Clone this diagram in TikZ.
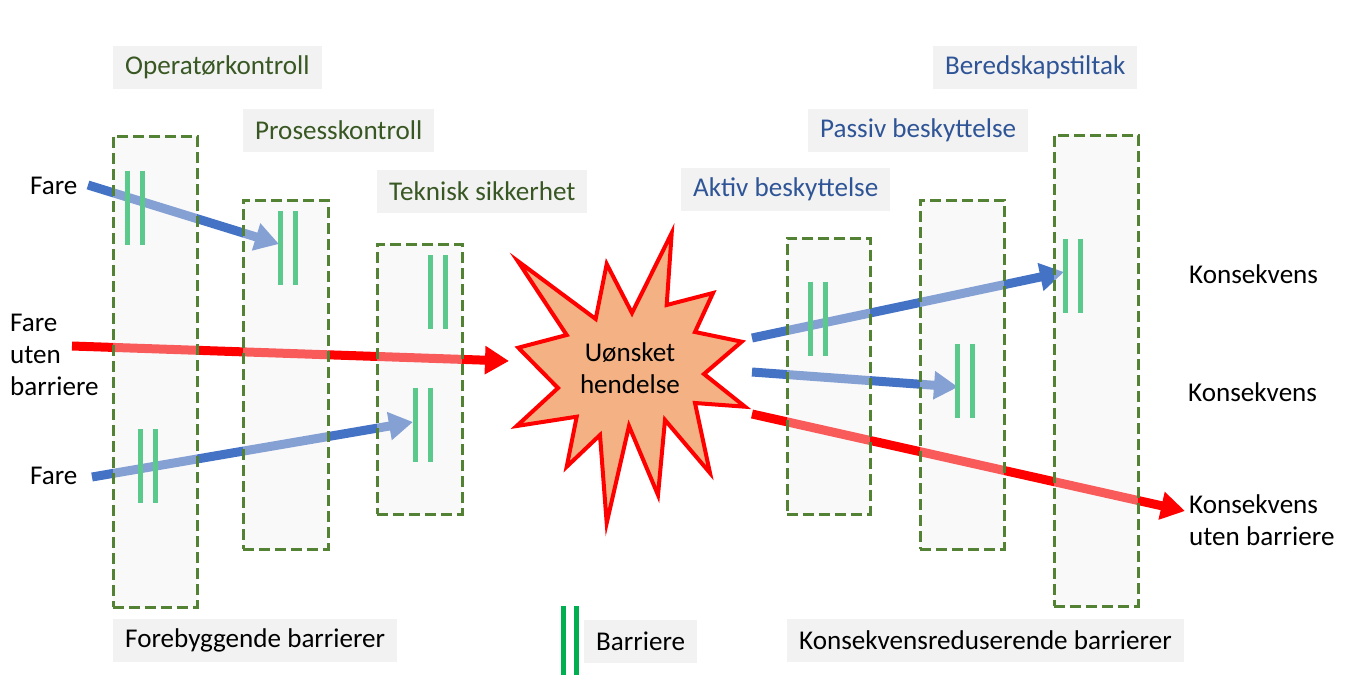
\documentclass[tikz,border=0pt]{standalone}
\usepackage{fontspec}
\setmainfont{Carlito}
\usetikzlibrary{arrows.meta}
\definecolor{dgreen}{HTML}{385723}
\definecolor{dblue}{HTML}{2F5597}
\definecolor{framegreen}{HTML}{548235}
\definecolor{lgray}{HTML}{F2F2F2}
\definecolor{barg}{HTML}{00B050}
\definecolor{arrblue}{HTML}{4472C4}
\definecolor{burst}{HTML}{F4B183}
\begin{document}
\begin{tikzpicture}[x=1pt,y=-1pt,
 every node/.style={font=\fontsize{27.1}{32}\selectfont, inner sep=0pt},
 lbl/.style={fill=lgray, minimum height=43, inner xsep=12pt, anchor=west},
 grp/.style={draw=framegreen, line width=3, dash pattern=on 11pt off 5pt, fill=black!6, fill opacity=0.38},
 barline/.style={draw=barg, line width=5},
 harrow/.style={line width=9, -{Triangle[length=24pt,width=27pt]}},
 pics/barrierpair/.style={code={
   \draw[barline] (-7.5,-37) -- (-7.5,37);
   \draw[barline] (7.5,-37) -- (7.5,37);}},
]
\useasboundingbox (0,0) rectangle (1345,689);

% arrow end points
\coordinate (a1s) at (88,185);   \coordinate (a1e) at (279,244);
\coordinate (rls) at (72,346);   \coordinate (rle) at (509,361);
\coordinate (a2s) at (92,477);   \coordinate (a2e) at (413,422);
\coordinate (r1s) at (752,338);  \coordinate (r1e) at (1064,272);
\coordinate (r2s) at (752,372);  \coordinate (r2e) at (958,387);
\coordinate (rrs) at (752,414);  \coordinate (rre) at (1185,511);

% arrows
\draw[harrow, arrblue] (a1s) -- (a1e);
\draw[harrow, red] (rls) -- (rle);
\draw[harrow, arrblue] (a2s) -- (a2e);
\draw[harrow, arrblue] (r1s) -- (r1e);
\draw[harrow, arrblue] (r2s) -- (r2e);
\draw[harrow, red] (rrs) -- (rre);

% barriers
\pic at (134.5,207.5) {barrierpair};
\pic at (288,248) {barrierpair};
\pic at (437.5,292) {barrierpair};
\pic at (422.5,424.5) {barrierpair};
\pic at (147.5,466) {barrierpair};
\pic at (817.5,318.5) {barrierpair};
\pic at (965,381) {barrierpair};
\pic at (1072.5,275.5) {barrierpair};

% group frames
\node[grp, minimum width=84, minimum height=471] (g1) at (155,371.5) {};
\node[grp, minimum width=85, minimum height=349] (g2) at (285.5,374.5) {};
\node[grp, minimum width=85, minimum height=270] (g3) at (419.5,379) {};
\node[grp, minimum width=83, minimum height=276] (g4) at (828.5,376) {};
\node[grp, minimum width=84, minimum height=349] (g5) at (962,374.5) {};
\node[grp, minimum width=84, minimum height=471] (g6) at (1096,370.5) {};

% starburst
\draw[fill=burst, draw=red, line width=4, line join=miter]
 (671.7,233) -- (666.7,305) -- (713,293) -- (695,332) -- (741.7,341.7)
 -- (704,374) -- (745,406.7) -- (695,403) -- (710,473) -- (665,420)
 -- (658,495) -- (629,426) -- (606.7,523) -- (600,435) -- (566.7,466.7)
 -- (576.7,416.7) -- (516.7,426) -- (558,388) -- (518.3,347.7)
 -- (566.7,335) -- (517.7,261) -- (595.7,319) -- (606.7,264) -- (632,313) -- cycle;
\node[align=center] (event) at (630,368) {Uønsket\\hendelse};

% labels
\node[lbl, text=dgreen] (op) at (113,67.5) {Operatørkontroll};
\node[lbl, text=dgreen] (pk) at (243,130) {Prosesskontroll};
\node[lbl, text=dgreen] (ts) at (377,191.5) {Teknisk sikkerhet};
\node[lbl, text=dblue] (ab) at (681,189.5) {Aktiv beskyttelse};
\node[lbl, text=dblue] (pb) at (808,130) {Passiv beskyttelse};
\node[lbl, text=dblue] (bt) at (933,67.5) {Beredskapstiltak};
\node[lbl] (fb) at (113,640) {Forebyggende barrierer};
\node[lbl] (bl) at (584,641) {Barriere};
\node[lbl] (kb) at (787,640) {Konsekvensreduserende barrierer};

% legend barrier
\draw[line width=5, draw=barg] (563,606) -- (563,675);
\draw[line width=5, draw=barg] (576,606) -- (576,675);

% side texts
\node[anchor=west] (fare1) at (30,186) {Fare};
\node[anchor=west, align=left] (fare0) at (10,355) {Fare\\uten\\barriere};
\node[anchor=west] (fare2) at (30,476) {Fare};
\node[anchor=west] (k1) at (1189,274) {Konsekvens};
\node[anchor=west] (k2) at (1188,392) {Konsekvens};
\node[anchor=west, align=left] (k3) at (1189,520) {Konsekvens\\uten barriere};
\end{tikzpicture}
\end{document}
